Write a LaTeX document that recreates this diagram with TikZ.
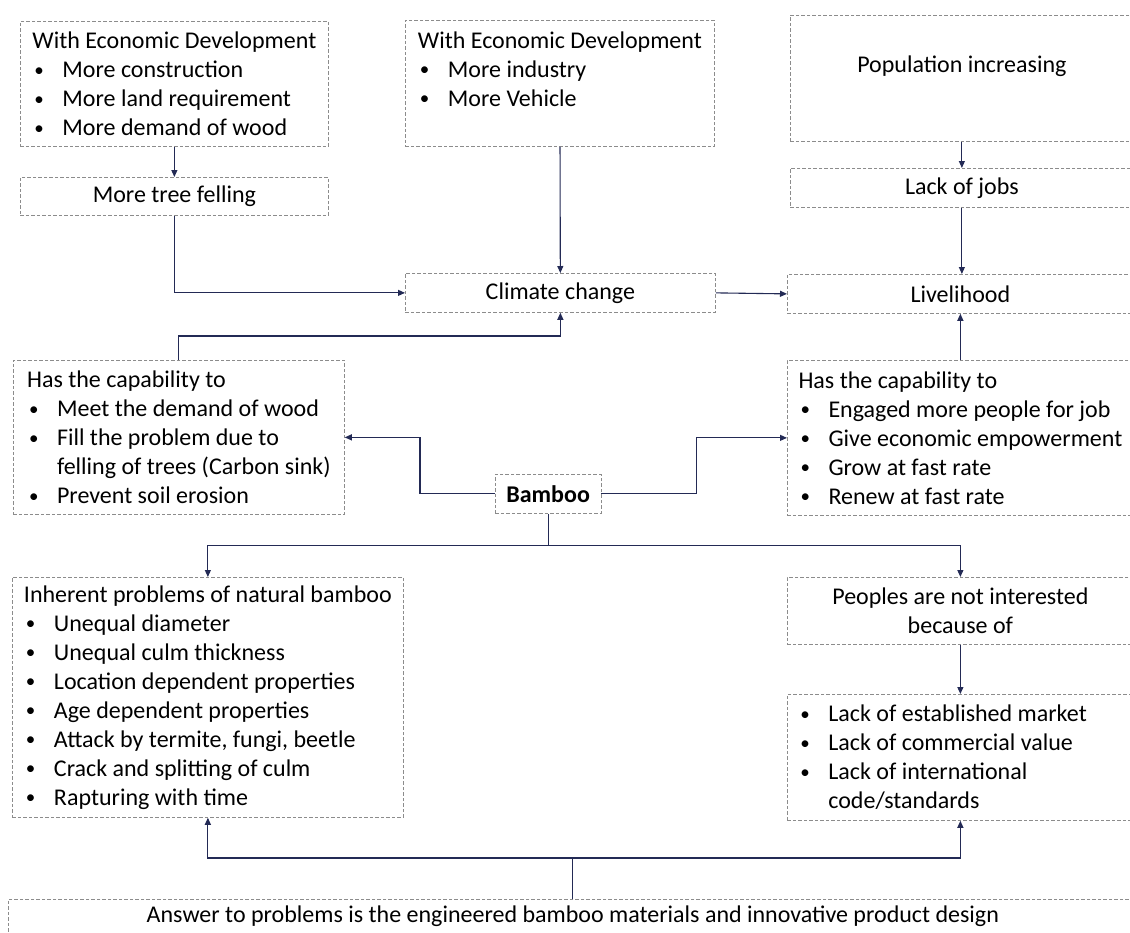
\documentclass[tikz,border=0pt]{standalone}
\usepackage{fontspec}
\setmainfont{Carlito}
\usetikzlibrary{arrows.meta}
\definecolor{boxgray}{RGB}{140,140,140}
\definecolor{linknavy}{RGB}{35,42,85}
\tikzset{
box/.style={
	  draw=boxgray, line width=0.75pt, dash pattern=on 3.5pt off 2pt,
	    anchor=north west, inner xsep=11pt, inner ysep=0pt,
    font=\fontsize{24}{29}\selectfont},
link/.style={
	  draw=linknavy, line width=1.1pt,
	    -{Triangle[length=7pt,width=6pt]}}
}
\newcommand{\itm}[1]{\makebox[30pt][l]{\hspace{2pt}\raisebox{1.5pt}{\fontsize{19}{19}\selectfont\textbullet}}#1}

\begin{document}
\begin{tikzpicture}[x=1pt, y=-1pt]
	\useasboundingbox (0,0) rectangle (1130,932);
	\node[box, align=left, minimum width=308pt, minimum height=125pt] (econA) at (20,21)
	{With Economic Development\\ \itm{More construction}\\ \itm{More land requirement}\\ \itm{More demand of wood}};
	\node[box, align=center, minimum width=308pt, minimum height=38pt] (felling) at (20,177) {More tree felling};
	\node[box, align=left, minimum width=309pt, minimum height=126pt] (econB) at (405,20)
	{With Economic Development\\ \itm{More industry}\\ \itm{More Vehicle}\\ \mbox{}};
	\node[box, align=center, minimum width=343pt, minimum height=126pt] (population) at (790,15)
	{Population increasing\\ \mbox{}};
	\node[box, align=center, minimum width=343pt, minimum height=39pt] (jobs) at (790,168) {Lack of jobs};
	\node[box, align=center, minimum width=310pt, minimum height=39pt] (climate) at (405,273) {Climate change};
	\node[box, align=center, minimum width=346pt, minimum height=39pt] (livelihood) at (787,274) {Livelihood};
	\node[box, align=left, minimum width=331pt, minimum height=154pt] (leftcap) at (13,360)
	{Has the capability to\\ \itm{Meet the demand of wood}\\ \itm{Fill the problem due to}\\
	\hspace*{30pt}felling of trees (Carbon sink)\\ \itm{Prevent soil erosion}};
	\node[box, align=left, minimum width=346pt, minimum height=155pt] (rightcap) at (787,360)
	{Has the capability to\\ \itm{Engaged more people for job}\\ \itm{Give economic empowerment}\\
	\itm{Grow at fast rate}\\ \itm{Renew at fast rate}};
	\node[box, align=center, minimum width=103pt, minimum height=39pt] (bamboo) at (495,474) {\textbf{Bamboo}};
	\node[box, align=left, minimum width=391pt, minimum height=240pt] (inherent) at (12,577)
	{Inherent problems of natural bamboo\\ \itm{Unequal diameter}\\ \itm{Unequal culm thickness}\\
	\itm{Location dependent properties}\\ \itm{Age dependent properties}\\ \itm{Attack by termite, fungi, beetle}\\
	\itm{Crack and splitting of culm}\\ \itm{Rapturing with time}};
	\node[box, align=center, minimum width=346pt, minimum height=67pt] (peoples) at (787,577)
	{Peoples are not interested\\ because of};
	\node[box, align=flush left, text width=324pt, minimum height=126pt] (reasons) at (787,694)
	{\itm{Lack of established market}\\ \itm{Lack of commercial value}\\ \itm{Lack of international}\\
	\hspace*{30pt}code/standards};
	\node[box, align=center, minimum width=1129pt, minimum height=34pt] (answer) at (8,899)
	{Answer to problems is the engineered bamboo materials and innovative product design};

	\draw[link] (econA) -- (felling);
	\draw[link] (felling.south) |- (climate.west);
	\draw[link] (econB) -- (climate);
	\draw[link] (leftcap.north) -- ++(0,-24) -| (climate.south);
	\draw[link] (climate.east) -- (livelihood.west);
	\draw[link] (population) -- (jobs);
	\draw[link] (jobs.south) -- (jobs.south |- livelihood.north);
	\draw[link] (rightcap) -- (livelihood);
	\draw[link] (bamboo.west) -- ++(-75,0) |- (leftcap.east);
	\draw[link] (bamboo.east) -- ++(95,0) |- (rightcap.west);
	\draw[draw=linknavy, line width=1.1pt] (bamboo.south) -- ++(0,32) coordinate (split);
	\draw[link] (split) -| (inherent.north);
	\draw[link] (split) -| (peoples.north);
	\draw[link] (peoples.south) -- (peoples.south |- reasons.north);
	\draw[draw=linknavy, line width=1.1pt] (answer.north) -- ++(0,-41) coordinate (join);
	\draw[link] (join) -| (inherent.south);
	\draw[link] (join) -| (reasons.south);
\end{tikzpicture}
\end{document}
